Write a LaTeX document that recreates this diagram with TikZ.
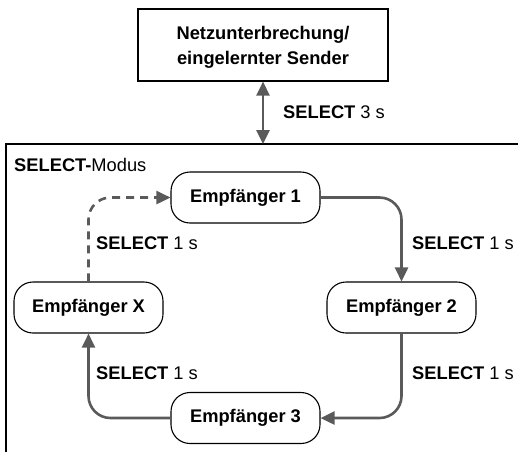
\documentclass[tikz,border=0pt]{standalone}
\usepackage{fontspec}
\setmainfont{Liberation Sans}
\usetikzlibrary{arrows.meta}
\definecolor{arrgray}{HTML}{5A5A5A}
\tikzset{
  box/.style={draw=black, line width=1.1pt, rounded corners=19pt, minimum width=149pt, minimum height=51pt, inner sep=0pt, font=\fontsize{18.3}{22}\selectfont\bfseries},
  topbox/.style={draw=black, line width=1.1pt, minimum width=250pt, minimum height=72pt, inner sep=0pt, align=center, font=\fontsize{18.3}{25}\selectfont\bfseries},
  arr/.style={draw=arrgray, line width=2.6pt, rounded corners=22pt, -{Triangle[length=14pt,width=13pt]}},
  lbl/.style={anchor=west, inner sep=0pt, font=\fontsize{18.3}{22}\selectfont},
}
\begin{document}
\begin{tikzpicture}[x=1pt,y=-1pt]
\useasboundingbox (0,0) rectangle (518,451);
% outer frame
\draw[line width=1.1pt] (6,460) -- (6,144) -- (530,144);
\coordinate (ft) at (263,144);
\node[topbox] (top) at (263,45) {};
\node[inner sep=0pt, align=center, font=\fontsize{18.3}{25}\selectfont\bfseries] (toptext) at (263,47.5) {Netzunterbrechung/\\eingelernter Sender};
\draw[draw=arrgray, line width=2.6pt, {Triangle[length=14pt,width=13pt]}-{Triangle[length=14pt,width=13pt]}] (top.south) -- (ft);
\node[lbl] (l0) at (283,112) {\textbf{SELECT} 3 s};
\node[lbl] (mode) at (14,165) {\textbf{SELECT-}Modus};
\node[box] (e1) at (245.5,197.5) {Empfänger 1};
\node[box] (e2) at (401.5,307.5) {Empfänger 2};
\node[box] (ex) at (88.5,307.5) {Empfänger X};
\node[box] (e3) at (245.5,418) {Empfänger 3};
\draw[arr] (e1.east) -| (e2.north);
\draw[arr] (e2.south) |- (e3.east);
\draw[arr] (e3.west) -| (ex.south);
\draw[arr, dash pattern=on 8pt off 6pt] (ex.north) |- (e1.west);
\node[lbl] (l1) at (412,243) {\textbf{SELECT} 1 s};
\node[lbl] (l2) at (412,373) {\textbf{SELECT} 1 s};
\node[lbl] (l3) at (96,373) {\textbf{SELECT} 1 s};
\node[lbl] (l4) at (96,243) {\textbf{SELECT} 1 s};
\end{tikzpicture}
\end{document}
